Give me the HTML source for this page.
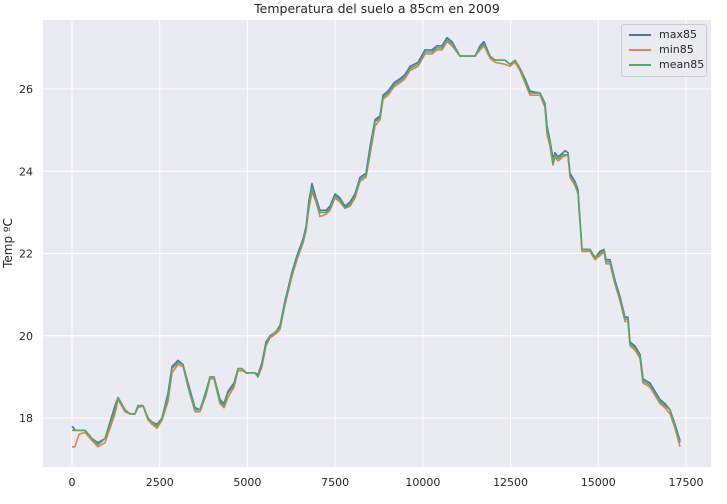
<!DOCTYPE html>
<html><head><meta charset="utf-8"><style>
body{margin:0;background:#fff;width:727px;height:499px;overflow:hidden;font-family:"Liberation Sans","DejaVu Sans",sans-serif}
svg text{font-family:"DejaVu Sans","Liberation Sans",sans-serif;fill:#262626}
</style></head><body>
<svg id="chart" width="727" height="499" xmlns="http://www.w3.org/2000/svg"></svg>
<script>
const xTicks=[0,2500,5000,7500,10000,12500,15000,17500];
const yTicks=[18,20,22,24,26];
const meanX=[0,371,570,741,941,1226,1311,1511,1653,1796,1881,2024,2166,2280,2423,2565,2736,2850,3021,3164,3306,3506,3648,3819,3933,4047,4218,4332,4446,4617,4731,4845,4959,5216,5301,5415,5529,5643,5814,5928,6071,6270,6413,6584,6669,6755,6840,6954,7068,7239,7353,7496,7638,7781,7923,8066,8208,8379,8493,8636,8778,8864,9006,9177,9348,9491,9633,9861,10061,10260,10403,10545,10688,10830,11058,11486,11628,11742,11913,12056,12341,12483,12626,12768,12911,13053,13338,13481,13538,13624,13709,13766,13851,13994,14136,14193,14336,14421,14535,14763,14906,15048,15162,15219,15333,15476,15618,15761,15846,15903,16046,16188,16274,16473,16616,16758,16901,17043,17186,17328];
const meanY=[17.7,17.7,17.5,17.35,17.5,18.2,18.5,18.2,18.1,18.1,18.3,18.3,18.0,17.9,17.8,18.0,18.5,19.2,19.35,19.3,18.8,18.2,18.2,18.6,19.0,19.0,18.4,18.3,18.6,18.8,19.2,19.2,19.1,19.1,19.0,19.3,19.8,20.0,20.1,20.2,20.8,21.5,21.9,22.3,22.6,23.2,23.6,23.3,23.0,23.0,23.1,23.4,23.3,23.1,23.2,23.4,23.8,23.9,24.5,25.2,25.3,25.8,25.9,26.1,26.2,26.3,26.5,26.6,26.9,26.9,27.0,27.0,27.2,27.1,26.8,26.8,27.0,27.1,26.8,26.7,26.7,26.6,26.7,26.5,26.2,25.9,25.9,25.6,25.0,24.7,24.2,24.4,24.3,24.4,24.4,23.9,23.7,23.5,22.1,22.1,21.9,22.0,22.1,21.8,21.8,21.3,20.9,20.4,20.4,19.8,19.7,19.5,18.9,18.8,18.6,18.4,18.3,18.2,17.8,17.4];
const maxX=[0,100,200,371,570,741,941,1226,1311,1511,1653,1796,1881,2024,2166,2280,2423,2565,2736,2850,3021,3164,3306,3506,3648,3819,3933,4047,4218,4332,4446,4617,4731,4845,4959,5216,5301,5415,5529,5643,5814,5928,6071,6270,6413,6584,6669,6755,6840,6954,7068,7239,7353,7496,7638,7781,7923,8066,8208,8379,8493,8636,8778,8864,9006,9177,9348,9491,9633,9861,10061,10260,10403,10545,10688,10830,11058,11486,11628,11742,11913,12056,12341,12483,12626,12768,12911,13053,13338,13481,13538,13624,13709,13766,13851,13994,14050,14136,14193,14336,14421,14535,14763,14906,15048,15162,15219,15333,15476,15618,15761,15846,15903,16046,16188,16274,16473,16616,16758,16901,17043,17186,17328];
const maxY=[17.8,17.7,17.7,17.7,17.5,17.4,17.5,18.3,18.5,18.2,18.1,18.1,18.3,18.3,18.0,17.9,17.85,18.0,18.6,19.25,19.4,19.3,18.85,18.25,18.2,18.65,19.0,19.0,18.45,18.35,18.65,18.85,19.2,19.2,19.1,19.1,19.05,19.35,19.85,20.0,20.1,20.25,20.85,21.55,21.95,22.35,22.65,23.3,23.7,23.35,23.05,23.05,23.15,23.45,23.35,23.15,23.25,23.45,23.85,23.95,24.6,25.25,25.35,25.85,25.95,26.15,26.25,26.35,26.55,26.65,26.95,26.95,27.05,27.05,27.25,27.15,26.8,26.8,27.05,27.15,26.8,26.7,26.7,26.6,26.7,26.5,26.25,25.95,25.9,25.65,25.1,24.75,24.3,24.45,24.35,24.45,24.5,24.45,23.95,23.75,23.55,22.1,22.1,21.9,22.05,22.1,21.85,21.85,21.35,20.95,20.45,20.45,19.85,19.75,19.55,18.95,18.85,18.65,18.45,18.35,18.2,17.85,17.45];
const minX=[0,80,200,371,570,741,941,1226,1311,1511,1653,1796,1881,2024,2166,2280,2423,2565,2736,2850,3021,3164,3306,3506,3648,3819,3933,4047,4218,4332,4446,4617,4731,4845,4959,5216,5301,5415,5529,5643,5814,5928,6071,6270,6413,6584,6669,6755,6840,6954,7068,7239,7353,7496,7638,7781,7923,8066,8208,8379,8493,8636,8778,8864,9006,9177,9348,9491,9633,9861,10061,10260,10403,10545,10688,10830,11058,11486,11628,11742,11913,12056,12341,12483,12626,12768,12911,13053,13338,13481,13538,13624,13709,13766,13851,13994,14136,14193,14336,14421,14535,14763,14906,15048,15162,15219,15333,15476,15618,15761,15846,15903,16046,16188,16274,16473,16616,16758,16901,17043,17186,17328];
const minY=[17.3,17.3,17.6,17.65,17.45,17.3,17.4,18.1,18.45,18.15,18.1,18.1,18.25,18.3,17.95,17.85,17.75,17.95,18.4,19.1,19.3,19.25,18.75,18.15,18.15,18.55,18.95,18.95,18.35,18.25,18.5,18.75,19.15,19.15,19.1,19.1,19.0,19.25,19.75,19.95,20.05,20.15,20.75,21.45,21.85,22.25,22.55,23.1,23.5,23.25,22.9,22.95,23.05,23.35,23.25,23.1,23.15,23.35,23.75,23.85,24.4,25.1,25.25,25.75,25.85,26.05,26.15,26.25,26.45,26.55,26.85,26.85,26.95,26.95,27.15,27.05,26.8,26.8,26.95,27.05,26.75,26.65,26.6,26.55,26.65,26.45,26.15,25.85,25.85,25.55,24.9,24.6,24.15,24.35,24.25,24.35,24.4,23.85,23.65,23.45,22.05,22.05,21.85,21.95,22.05,21.75,21.75,21.25,20.85,20.35,20.35,19.75,19.65,19.45,18.85,18.75,18.55,18.35,18.25,18.1,17.75,17.3];
const svg=document.getElementById('chart');
const NS='http://www.w3.org/2000/svg';
const L=43,R=711,T=20,B=467;
function sx(v){return 72+v*(686-72)/17500;}
function sy(v){return 418-(v-18)*(418-89)/8;}
function mk(tag,attrs){const e=document.createElementNS(NS,tag);for(const k in attrs)e.setAttribute(k,attrs[k]);svg.appendChild(e);return e;}
const bg=mk('rect',{x:L,y:T,width:R-L,height:B-T,fill:'#EAEAF2'});


xTicks.forEach(v=>{
 const g=mk('line',{x1:sx(v),x2:sx(v),y1:T,y2:B,stroke:'#fff','stroke-width':1});
 
 
 const t=mk('text',{x:sx(v),y:486,'text-anchor':'middle','font-size':11});
 t.textContent=v;
 
 
});
yTicks.forEach(v=>{
 const g=mk('line',{x1:L,x2:R,y1:sy(v),y2:sy(v),stroke:'#fff','stroke-width':1});
 
 
 const t=mk('text',{x:33,y:sy(v)+4,'text-anchor':'end','font-size':11});
 t.textContent=v;
 
 
});
function line(xs,ys,color,name){
 const d=xs.map((x,i)=>(i?'L':'M')+sx(x).toFixed(1)+','+sy(ys[i]).toFixed(1)).join('');
 const p=mk('path',{d:d,fill:'none',stroke:color,'stroke-width':1.6,'stroke-linejoin':'round'});
 
 
}
line(maxX,maxY,'#4C72B0','max85-line');
line(minX,minY,'#DD8452','min85-line');
line(meanX,meanY,'#55A868','mean85-line');
</script>
<div style="position:absolute;left:0;top:1px;width:754px;text-align:center;font-size:12.5px;color:#262626;font-family:'DejaVu Sans',sans-serif">Temperatura del suelo a 85cm en 2009</div>
<div style="position:absolute;left:-22px;top:236px;width:60px;text-align:center;transform:rotate(-90deg);font-size:12px;color:#262626;font-family:'DejaVu Sans',sans-serif">Temp ºC</div>
<div style="position:absolute;left:621px;top:24px;width:84px;height:51px;background:rgba(234,234,242,0.8);border:1px solid #ccc;border-radius:3px;font-family:'DejaVu Sans',sans-serif;font-size:11px;color:#262626">
 <div style="position:absolute;left:7px;top:3px"><span style="display:inline-block;width:22px;height:2px;background:#4C72B0;vertical-align:middle;margin-right:8px"></span>max85</div>
 <div style="position:absolute;left:7px;top:18px"><span style="display:inline-block;width:22px;height:2px;background:#DD8452;vertical-align:middle;margin-right:8px"></span>min85</div>
 <div style="position:absolute;left:7px;top:33px"><span style="display:inline-block;width:22px;height:2px;background:#55A868;vertical-align:middle;margin-right:8px"></span>mean85</div>
</div>
</body></html>
